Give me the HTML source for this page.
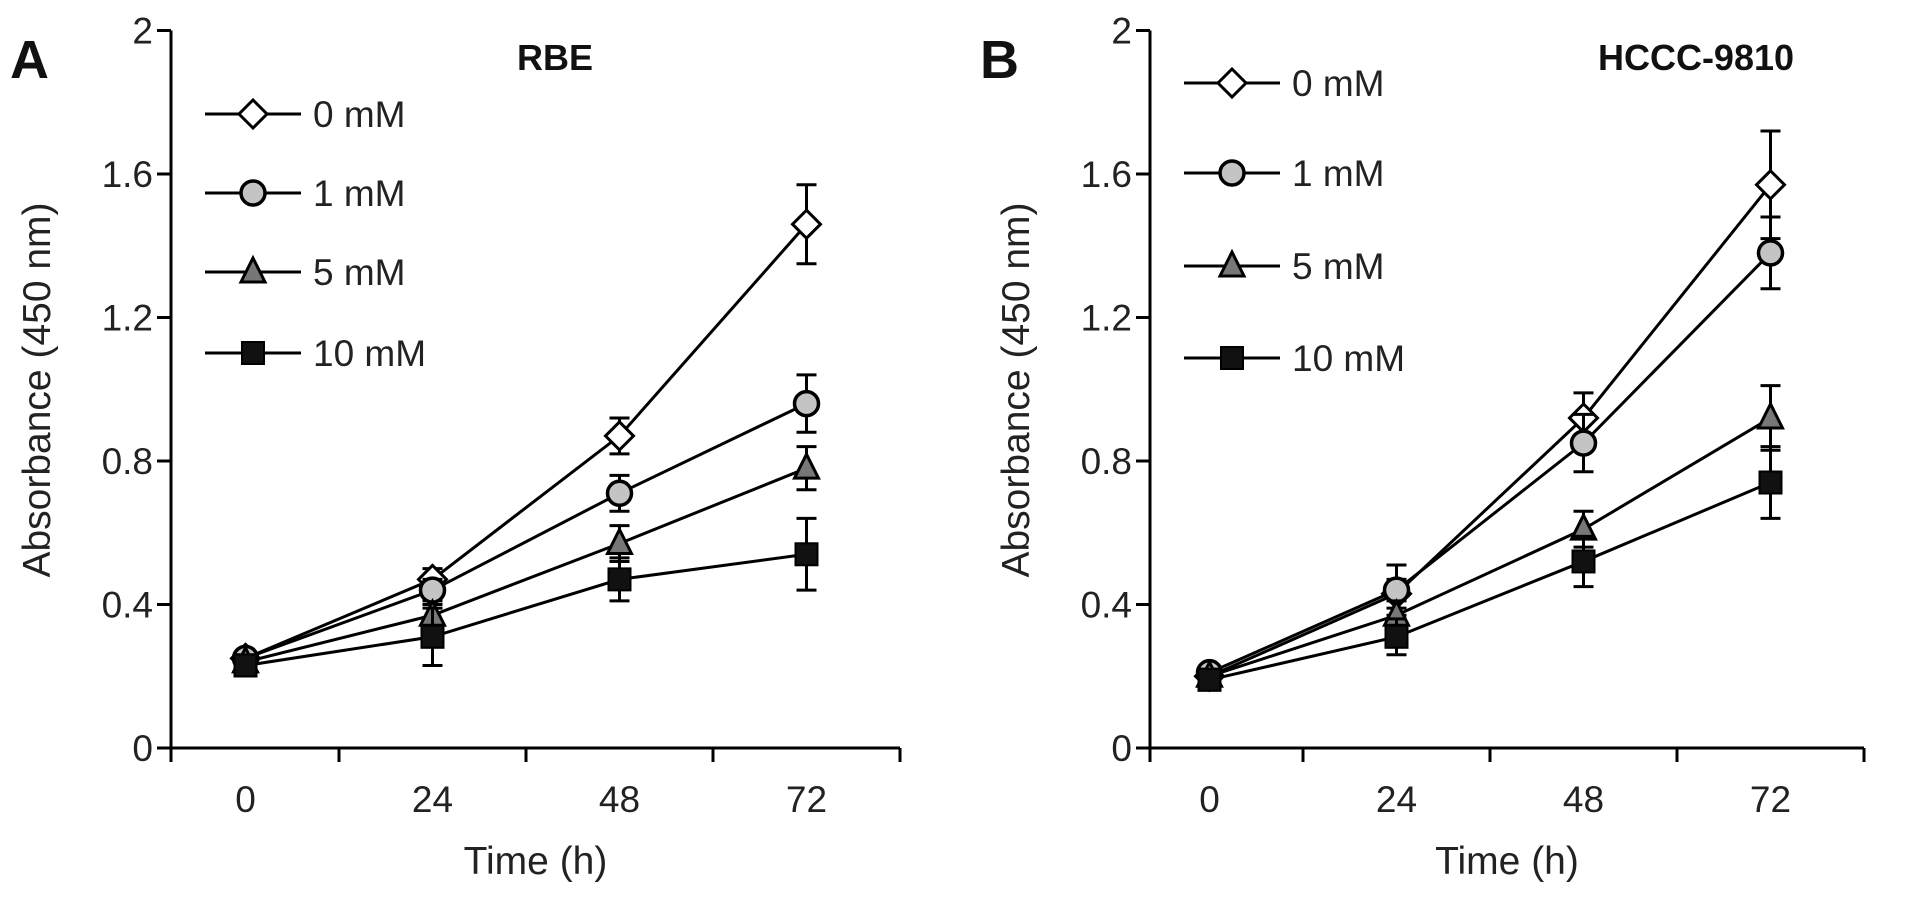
<!DOCTYPE html>
<html><head><meta charset="utf-8"><style>
html,body{margin:0;padding:0;background:#fff;}
svg{display:block;font-family:"Liberation Sans",sans-serif;}
</style></head><body>
<svg id="chart" width="1913" height="907" viewBox="0 0 1913 907"></svg>
<script>
const categories = ["0","24","48","72"];
const yTicks = [0,0.4,0.8,1.2,1.6,2];
const yTickLabels = ["0","0.4","0.8","1.2","1.6","2"];
const seriesNames = ["0 mM","1 mM","5 mM","10 mM"];
const rbe0 = [0.25,0.47,0.87,1.46];
const rbe1 = [0.25,0.44,0.71,0.96];
const rbe5 = [0.24,0.37,0.57,0.78];
const rbe10 = [0.23,0.31,0.47,0.54];
const rbeErr0 = [0.02,0.03,0.05,0.11];
const rbeErr1 = [0.02,0.03,0.05,0.08];
const rbeErr5 = [0.02,0.03,0.05,0.06];
const rbeErr10 = [0.02,0.08,0.06,0.10];
const hc0 = [0.20,0.43,0.92,1.57];
const hc1 = [0.21,0.44,0.85,1.38];
const hc5 = [0.20,0.37,0.61,0.92];
const hc10 = [0.19,0.31,0.52,0.74];
const hcErr0 = [0.02,0.04,0.07,0.15];
const hcErr1 = [0.02,0.07,0.08,0.10];
const hcErr5 = [0.02,0.04,0.05,0.09];
const hcErr10 = [0.02,0.05,0.07,0.10];

const NS="http://www.w3.org/2000/svg";
const svg=document.getElementById('chart');
function mk(tag,attrs,parent){const e=document.createElementNS(NS,tag);for(const k in attrs)e.setAttribute(k,attrs[k]);(parent||svg).appendChild(e);return e;}
function txt(s,attrs,parent){const e=mk('text',attrs,parent);e.textContent=s;return e;}

const styles=[
 {shape:'diamond',fill:'#fff'},
 {shape:'circle',fill:'#c4c4c4'},
 {shape:'triangle',fill:'#777'},
 {shape:'square',fill:'#111'}
];
function marker(g,shape,fill,x,y){
  let m;
  if(shape==='diamond') m=mk('polygon',{points:`${x},${y-14} ${x+14},${y} ${x},${y+14} ${x-14},${y}`,fill:fill,stroke:'#000','stroke-width':3},g);
  else if(shape==='circle') m=mk('circle',{cx:x,cy:y,r:12,fill:fill,stroke:'#000','stroke-width':3.5},g);
  else if(shape==='triangle') m=mk('polygon',{points:`${x},${y-14} ${x+12},${y+10} ${x-12},${y+10}`,fill:fill,stroke:'#000','stroke-width':3},g);
  else m=mk('rect',{x:x-11,y:y-11,width:22,height:22,fill:fill,stroke:'#000','stroke-width':2},g);
  return m;
}

function panel(cfg){
  const g=mk('g',{});
  
  
  const xL=cfg.axisX, xR=cfg.axisR, y0=748, yTop=30.5;
  const ys=v=>y0-(v/2)*(y0-yTop);
  const band=187;
  const vL=xR-band*categories.length;
  const xs=i=>vL+band*(i+0.5);
  const ya=mk('line',{x1:xL,y1:yTop,x2:xL,y2:y0,stroke:'#000','stroke-width':3},g);
  
  
  yTicks.forEach((t,i)=>{
    mk('line',{x1:xL-14,y1:ys(t),x2:xL,y2:ys(t),stroke:'#000','stroke-width':3},g);
    const l=txt(yTickLabels[i],{x:xL-18,y:ys(t)+13,'text-anchor':'end','font-size':37,fill:'#222'},g);
    
    
  });
  const xa=mk('line',{x1:xL,y1:y0,x2:xR,y2:y0,stroke:'#000','stroke-width':3},g);
  
  
  mk('line',{x1:xL,y1:y0,x2:xL,y2:y0+14,stroke:'#000','stroke-width':3},g);
  for(let i=1;i<=categories.length;i++){
    mk('line',{x1:vL+band*i,y1:y0,x2:vL+band*i,y2:y0+14,stroke:'#000','stroke-width':3},g);
  }
  categories.forEach((c,i)=>{
    const l=txt(c,{x:xs(i),y:812,'text-anchor':'middle','font-size':37,fill:'#222'},g);
    
    
  });
  const xt=txt('Time (h)',{x:(xL+xR)/2,y:874,'text-anchor':'middle','font-size':39,fill:'#222'},g);
  
  
  const yt=txt('Absorbance (450 nm)',{x:0,y:0,'text-anchor':'middle','font-size':39,fill:'#222',transform:`translate(${cfg.ytX},390) rotate(-90)`},g);
  
  
  const pl=txt(cfg.letter,{x:cfg.letterX,y:78,'font-size':54,'font-weight':'bold',fill:'#111'},g);
  
  
  const ti=txt(cfg.title,{x:cfg.titleX,y:70,'text-anchor':'middle','font-size':36,'font-weight':'bold',fill:'#111'},g);
  
  
  cfg.series.forEach((vals,si)=>{
    const sg=mk('g',{},g);
    
    
    mk('polyline',{points:vals.map((v,i)=>xs(i)+','+ys(v)).join(' '),fill:'none',stroke:'#000','stroke-width':3},sg);
  });
  cfg.series.forEach((vals,si)=>{
    const sg=mk('g',{},g);
    
    
    vals.forEach((v,i)=>{
      const e=cfg.errs[si][i];
      const x=xs(i);
      mk('line',{x1:x,y1:ys(v-e),x2:x,y2:ys(v+e),stroke:'#000','stroke-width':3},sg);
      mk('line',{x1:x-10,y1:ys(v+e),x2:x+10,y2:ys(v+e),stroke:'#000','stroke-width':3},sg);
      mk('line',{x1:x-10,y1:ys(v-e),x2:x+10,y2:ys(v-e),stroke:'#000','stroke-width':3},sg);
      const m=marker(sg,styles[si].shape,styles[si].fill,x,ys(v));
      
      
    });
  });
  seriesNames.forEach((n,si)=>{
    const lg=mk('g',{},g);
    
    
    const ly=cfg.legY[si];
    mk('line',{x1:cfg.legX,y1:ly,x2:cfg.legX+96,y2:ly,stroke:'#000','stroke-width':3},lg);
    marker(lg,styles[si].shape,styles[si].fill,cfg.legX+48,ly);
    txt(n,{x:cfg.legX+108,y:ly+13,'font-size':37,fill:'#222'},lg);
  });
}
panel({name:'panel-a-rbe',axisX:171,axisR:900,ytX:50,letter:'A',letterX:10,title:'RBE',titleX:555,legX:205,legY:[114,193,272,353],
  series:[rbe0,rbe1,rbe5,rbe10],errs:[rbeErr0,rbeErr1,rbeErr5,rbeErr10]});
panel({name:'panel-b-hccc-9810',axisX:1150,axisR:1864,ytX:1029,letter:'B',letterX:980,title:'HCCC-9810',titleX:1696,legX:1184,legY:[83,173,266,358],
  series:[hc0,hc1,hc5,hc10],errs:[hcErr0,hcErr1,hcErr5,hcErr10]});
</script>
</body></html>
